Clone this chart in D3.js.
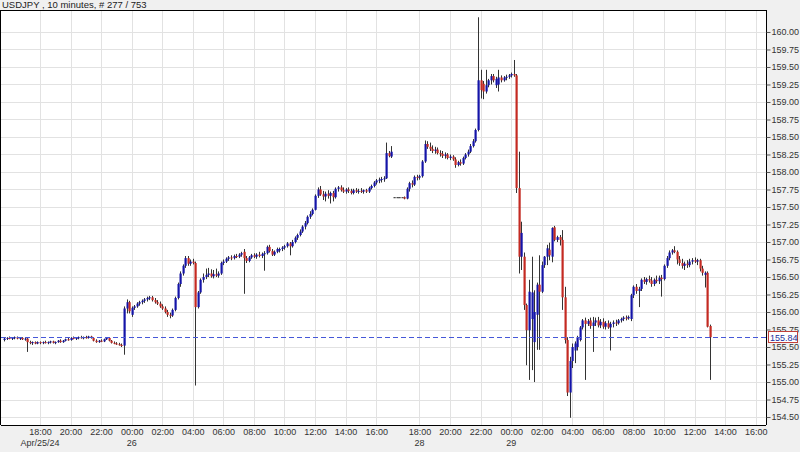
<!DOCTYPE html>
<html><head><meta charset="utf-8">
<script src="https://cdn.jsdelivr.net/npm/d3@7"></script>
<style>
html,body{margin:0;padding:0;background:#f0f0f0;}
svg{display:block;}
text{font-family:"Liberation Sans",Arial,sans-serif;}
</style></head>
<body>
<svg id="chart" width="800" height="452"></svg>
<script>
// ---- data (USDJPY 10-minute bars, index 0..277) ----
const opens = [155.60,155.62,155.63,155.62,155.63,155.64,155.62,155.63,155.61,155.62,155.57,155.56,155.57,155.55,155.57,155.56,155.57,155.56,155.57,155.58,155.56,155.57,155.59,155.57,155.59,155.61,155.60,155.63,155.62,155.63,155.64,155.63,155.64,155.63,155.65,155.63,155.59,155.57,155.59,155.58,155.61,155.63,155.59,155.56,155.55,155.54,155.53,155.52,156.05,156.14,155.96,156.06,156.08,156.12,156.14,156.16,156.18,156.20,156.21,156.17,156.14,156.12,156.08,156.05,156.00,155.96,155.95,156.03,156.20,156.40,156.55,156.66,156.77,156.69,156.72,156.70,156.07,156.28,156.46,156.50,156.53,156.55,156.51,156.54,156.52,156.55,156.70,156.72,156.76,156.78,156.77,156.80,156.79,156.82,156.86,156.77,156.73,156.78,156.81,156.79,156.82,156.80,156.83,156.84,156.93,156.87,156.82,156.86,156.88,156.90,156.92,156.94,156.98,156.94,157.00,157.06,157.10,157.15,157.22,157.27,157.36,157.40,157.46,157.66,157.75,157.68,157.65,157.69,157.66,157.70,157.64,157.76,157.78,157.74,157.72,157.75,157.73,157.70,157.74,157.72,157.73,157.72,157.74,157.72,157.77,157.80,157.85,157.88,157.89,157.90,157.91,158.27,158.22,157.64,157.64,157.64,157.64,157.64,157.62,157.76,157.84,157.82,157.93,157.92,157.94,158.15,158.40,158.36,158.33,158.30,158.32,158.27,158.26,158.23,158.25,158.20,158.22,158.18,158.10,158.14,158.12,158.20,158.25,158.29,158.37,158.44,158.60,159.31,159.26,159.15,159.24,159.31,159.37,159.24,159.25,159.35,159.31,159.35,159.36,159.38,159.40,159.38,157.77,156.79,156.79,156.10,155.74,155.90,155.57,155.96,156.39,156.29,156.67,156.79,156.89,156.79,157.21,157.03,157.07,157.03,156.21,155.60,154.85,155.30,155.45,155.50,155.60,155.78,155.88,155.83,155.88,155.80,155.85,155.88,155.81,155.86,155.79,155.84,155.78,155.83,155.85,155.84,155.88,155.90,155.92,155.91,155.90,156.24,156.36,156.30,156.33,156.46,156.43,156.47,156.45,156.40,156.46,156.44,156.49,156.47,156.66,156.77,156.85,156.88,156.86,156.75,156.70,156.66,156.69,156.67,156.72,156.74,156.72,156.74,156.62,156.53,156.56,155.80];
const highs = [155.63,155.64,155.65,155.64,155.65,155.65,155.64,155.64,155.63,155.63,155.59,155.58,155.58,155.58,155.58,155.58,155.59,155.58,155.59,155.59,155.58,155.60,155.61,155.60,155.62,155.63,155.64,155.65,155.64,155.65,155.66,155.65,155.66,155.66,155.66,155.64,155.61,155.60,155.61,155.62,155.64,155.64,155.60,155.58,155.57,155.56,155.55,156.08,156.18,156.16,156.08,156.10,156.14,156.16,156.18,156.20,156.22,156.23,156.23,156.20,156.17,156.15,156.11,156.08,156.03,155.99,156.05,156.22,156.42,156.58,156.68,156.80,156.80,156.75,156.76,156.72,156.30,156.48,156.55,156.62,156.63,156.61,156.60,156.62,156.58,156.72,156.75,156.78,156.80,156.81,156.82,156.83,156.84,156.86,156.90,156.80,156.80,156.83,156.84,156.84,156.86,156.85,156.87,156.95,156.96,156.90,156.88,156.92,156.92,156.94,156.96,157.00,157.00,157.03,157.08,157.12,157.18,157.24,157.30,157.38,157.44,157.48,157.68,157.78,157.80,157.73,157.72,157.74,157.72,157.73,157.78,157.80,157.81,157.78,157.77,157.78,157.76,157.76,157.77,157.76,157.77,157.75,157.76,157.79,157.82,157.87,157.90,157.92,157.93,157.94,158.42,158.30,158.37,157.64,157.64,157.64,157.64,157.65,157.78,157.86,157.88,157.95,157.96,157.96,158.17,158.45,158.44,158.42,158.38,158.36,158.35,158.31,158.30,158.28,158.27,158.25,158.24,158.21,158.16,158.18,158.22,158.27,158.32,158.40,158.47,158.62,160.21,159.46,159.30,159.46,159.33,159.40,159.40,159.36,159.46,159.38,159.37,159.39,159.40,159.42,159.60,159.40,158.29,157.29,156.85,156.12,156.46,156.79,156.31,156.42,156.81,156.72,156.80,156.96,156.99,157.21,157.23,157.09,157.10,157.17,156.36,155.64,155.36,155.55,155.58,155.66,155.80,155.90,155.92,155.90,155.92,155.93,155.92,155.93,155.90,155.91,155.87,155.88,155.86,155.88,155.89,155.90,155.92,155.94,155.95,155.95,156.26,156.38,156.40,156.36,156.48,156.50,156.49,156.52,156.50,156.48,156.52,156.52,156.53,156.68,156.80,156.88,156.90,156.94,156.88,156.80,156.76,156.72,156.74,156.76,156.77,156.78,156.76,156.76,156.66,156.58,156.58,155.82];
const lows = [155.58,155.60,155.61,155.60,155.61,155.61,155.60,155.60,155.59,155.43,155.54,155.53,155.54,155.54,155.54,155.54,155.55,155.54,155.55,155.55,155.54,155.56,155.56,155.56,155.58,155.59,155.59,155.61,155.60,155.61,155.62,155.61,155.62,155.62,155.62,155.58,155.56,155.56,155.57,155.57,155.60,155.58,155.55,155.54,155.53,155.52,155.50,155.39,155.98,155.98,155.93,156.03,156.06,156.09,156.11,156.13,156.15,156.17,156.15,156.12,156.10,156.06,156.03,155.98,155.93,155.91,155.93,156.01,156.18,156.36,156.52,156.63,156.66,156.66,156.68,154.95,156.05,156.26,156.42,156.47,156.50,156.49,156.48,156.50,156.49,156.53,156.67,156.70,156.73,156.74,156.75,156.77,156.77,156.79,156.26,156.70,156.71,156.76,156.77,156.76,156.78,156.77,156.59,156.82,156.85,156.80,156.80,156.84,156.85,156.87,156.89,156.92,156.81,156.92,156.98,157.03,157.08,157.13,157.18,157.25,157.33,157.38,157.45,157.63,157.66,157.60,157.58,157.62,157.55,157.58,157.62,157.72,157.72,157.70,157.69,157.70,157.68,157.68,157.70,157.69,157.70,157.69,157.70,157.70,157.75,157.78,157.82,157.84,157.85,157.86,157.90,158.21,158.20,157.64,157.64,157.64,157.64,157.61,157.61,157.72,157.78,157.80,157.88,157.89,157.92,158.13,158.33,158.30,158.27,158.26,158.25,158.22,158.20,158.19,158.18,158.17,158.16,158.06,158.08,158.09,158.10,158.18,158.22,158.27,158.35,158.42,158.58,159.05,159.04,159.12,159.21,159.25,159.28,159.20,159.15,159.28,159.29,159.31,159.33,159.35,159.36,157.70,156.55,156.60,156.03,155.24,155.03,155.17,155.00,155.46,155.46,156.27,156.63,156.67,156.74,156.71,157.01,157.00,156.95,156.03,155.55,154.80,154.49,155.20,155.27,155.45,155.58,155.75,155.03,155.80,155.76,155.43,155.80,155.78,155.77,155.76,155.75,155.76,155.45,155.78,155.80,155.82,155.85,155.87,155.88,155.89,155.87,156.20,156.26,156.07,156.30,156.40,156.39,156.42,156.36,156.37,156.41,156.40,156.22,156.45,156.63,156.74,156.82,156.84,156.68,156.66,156.62,156.60,156.63,156.64,156.68,156.70,156.67,156.58,156.52,156.35,155.78,155.03];
const closes = [155.62,155.63,155.62,155.63,155.64,155.62,155.63,155.61,155.62,155.57,155.56,155.57,155.55,155.57,155.56,155.57,155.56,155.57,155.58,155.56,155.57,155.59,155.57,155.59,155.61,155.60,155.63,155.62,155.63,155.64,155.63,155.64,155.63,155.65,155.63,155.59,155.57,155.59,155.58,155.61,155.63,155.59,155.56,155.55,155.54,155.53,155.52,156.05,156.14,156.01,156.06,156.08,156.12,156.14,156.16,156.18,156.20,156.21,156.17,156.14,156.12,156.08,156.05,156.00,155.96,155.95,156.03,156.20,156.40,156.55,156.66,156.77,156.69,156.72,156.70,156.07,156.28,156.46,156.50,156.53,156.55,156.51,156.54,156.52,156.55,156.70,156.72,156.76,156.78,156.77,156.80,156.79,156.82,156.84,156.77,156.73,156.78,156.81,156.79,156.82,156.80,156.83,156.84,156.93,156.87,156.82,156.86,156.90,156.90,156.92,156.94,156.98,156.94,157.00,157.06,157.10,157.15,157.22,157.27,157.36,157.40,157.46,157.66,157.75,157.68,157.65,157.69,157.66,157.70,157.64,157.76,157.78,157.74,157.72,157.75,157.73,157.70,157.74,157.72,157.73,157.72,157.74,157.72,157.77,157.80,157.85,157.88,157.89,157.90,157.91,158.27,158.23,158.29,157.64,157.64,157.64,157.64,157.62,157.76,157.84,157.82,157.93,157.92,157.94,158.15,158.40,158.36,158.33,158.30,158.32,158.27,158.26,158.23,158.25,158.20,158.22,158.18,158.10,158.14,158.12,158.20,158.25,158.29,158.37,158.44,158.60,159.31,159.17,159.15,159.24,159.31,159.37,159.31,159.33,159.35,159.31,159.35,159.36,159.38,159.40,159.38,157.77,156.79,157.13,156.10,155.74,156.29,156.28,156.00,156.39,156.29,156.67,156.79,156.91,156.81,157.20,157.03,157.07,157.03,156.21,155.60,154.85,155.30,155.50,155.55,155.64,155.78,155.88,155.83,155.87,155.80,155.85,155.88,155.81,155.86,155.79,155.84,155.78,155.83,155.85,155.84,155.88,155.90,155.92,155.91,155.93,156.24,156.36,156.30,156.33,156.46,156.43,156.47,156.45,156.40,156.46,156.44,156.49,156.47,156.66,156.77,156.85,156.88,156.86,156.75,156.70,156.66,156.69,156.67,156.72,156.74,156.72,156.74,156.62,156.56,156.56,155.79,155.64];

const yTicks = [154.50,154.75,155.00,155.25,155.50,155.75,156.00,156.25,156.50,156.75,157.00,157.25,157.50,157.75,158.00,158.25,158.50,158.75,159.00,159.25,159.50,159.75,160.00];
const xTickIdx = [14,26,38,50,62,74,86,98,110,122,134,146,163,175,187,199,211,223,235,247,259,271,283,295];
const xTickLabels = ["18:00","20:00","22:00","00:00","02:00","04:00","06:00","08:00","10:00","12:00","14:00","16:00","18:00","20:00","22:00","00:00","02:00","04:00","06:00","08:00","10:00","12:00","14:00","16:00"];
const xDateIdx = [14,50,163,199];
const xDateLabels = ["Apr/25/24","26","28","29"];
const title = "USDJPY , 10 minutes, # 277 / 753";
const lastPriceLabel = "155.84";

// ---- layout ----
const svg = d3.select("#chart");
const L = 1, R = 766, T = 10, B = 425;
const x = d3.scaleLinear().domain([-1.30, 299.06]).range([L, R]);
const y = d3.scaleLinear().domain([154.386, 160.314]).range([B, T]);

svg.append("rect").attr("x", L).attr("y", T).attr("width", R - L).attr("height", B - T).attr("fill", "#fff");

// gridlines
svg.append("g").selectAll("line").data(yTicks).join("line")
  .attr("x1", L).attr("x2", R)
  .attr("y1", d => Math.round(y(d)) + 0.5).attr("y2", d => Math.round(y(d)) + 0.5)
  .attr("stroke", "#e2e2e2").attr("stroke-width", 1);
svg.append("g").selectAll("line").data(xTickIdx).join("line")
  .attr("x1", d => Math.round(x(d)) + 0.5).attr("x2", d => Math.round(x(d)) + 0.5)
  .attr("y1", T).attr("y2", B)
  .attr("stroke", "#e2e2e2").attr("stroke-width", 1);

// candles
const bars = d3.range(closes.length).map(i => ({i, o: opens[i], h: highs[i], l: lows[i], c: closes[i]}));
const g = svg.append("g");
g.selectAll("line.wick").data(bars).join("line").attr("class", "wick")
  .attr("x1", d => Math.round(x(d.i)) + 0.5).attr("x2", d => Math.round(x(d.i)) + 0.5)
  .attr("y1", d => y(d.h)).attr("y2", d => y(d.l))
  .attr("stroke", "#333").attr("stroke-width", 1);
g.selectAll("rect.body").data(bars).join("rect").attr("class", "body")
  .attr("x", d => Math.round(x(d.i)) - 0.5)
  .attr("width", 2.2)
  .attr("y", d => y(Math.max(d.o, d.c)))
  .attr("height", d => Math.max(1, Math.abs(y(d.o) - y(d.c))))
  .attr("fill", d => d.c > d.o ? "#1414a8" : (d.c < d.o ? "#c42a22" : "#222"));

// last price dashed line
const lastClose = closes[closes.length - 1];
svg.append("line").attr("x1", L).attr("x2", R)
  .attr("y1", Math.round(y(lastClose)) + 0.5).attr("y2", Math.round(y(lastClose)) + 0.5)
  .attr("stroke", "#4658d8").attr("stroke-width", 1).attr("stroke-dasharray", "5,3");

// frame
svg.append("line").attr("x1", L).attr("x2", R).attr("y1", T + 0.5).attr("y2", T + 0.5).attr("stroke", "#000");
svg.append("line").attr("x1", L - 0.5).attr("x2", L - 0.5).attr("y1", T).attr("y2", B).attr("stroke", "#000");
svg.append("line").attr("x1", L).attr("x2", R).attr("y1", B + 0.5).attr("y2", B + 0.5).attr("stroke", "#000");

// right axis
const ay = svg.append("g").attr("transform", `translate(${R + 0.5},0)`)
  .call(d3.axisRight(y).tickValues(yTicks).tickSize(4).tickPadding(1).tickFormat(d3.format(".2f")));
ay.select(".domain").attr("stroke", "#000").attr("d", `M0,${T}V${B}`);
ay.selectAll(".tick line").attr("stroke", "#555");
ay.selectAll(".tick text").attr("font-size", 9).attr("fill", "#333").attr("font-family", "Liberation Sans, Arial, sans-serif");

// last price box
const ly = y(lastClose);
svg.append("rect").attr("x", R + 2.5).attr("y", Math.round(ly) - 5.5).attr("width", 29).attr("height", 11)
  .attr("fill", "#fff").attr("stroke", "#c0403a");
svg.append("text").attr("x", R + 4).attr("y", Math.round(ly) + 3.5).attr("font-size", 9).attr("fill", "#2030a0").text(lastPriceLabel);

// bottom axis
const ax = svg.append("g").attr("transform", `translate(0,${B})`)
  .call(d3.axisBottom(x).tickValues(xTickIdx).tickSize(0).tickPadding(4).tickFormat((d, k) => xTickLabels[k]));
ax.select(".domain").remove();
ax.selectAll(".tick text").attr("font-size", 9).attr("fill", "#333").attr("font-family", "Liberation Sans, Arial, sans-serif");

svg.append("g").selectAll("text").data(xDateIdx).join("text")
  .attr("x", d => x(d)).attr("y", 446).attr("text-anchor", "middle")
  .attr("font-size", 9).attr("fill", "#333").text((d, k) => xDateLabels[k]);

// title
svg.append("text").attr("x", 2).attr("y", 8).attr("font-size", 9.5).attr("fill", "#222").text(title);
</script>
</body></html>
